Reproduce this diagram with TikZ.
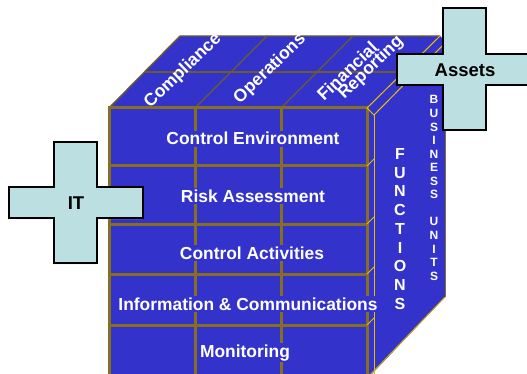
\documentclass[tikz,border=0pt]{standalone}
\usepackage{fontspec}
\setmainfont{Liberation Sans}
\definecolor{cubeblue}{RGB}{51,51,204}
\definecolor{gridline}{RGB}{134,112,32}
\definecolor{topline}{RGB}{110,92,40}
\definecolor{edgeyellow}{RGB}{232,192,0}
\definecolor{crossfill}{RGB}{188,224,226}
\begin{document}
\begin{tikzpicture}[x=1pt,y=-1pt,
  facetext/.style={text=white,font=\bfseries\fontsize{17.4}{20}\selectfont,fill=cubeblue,inner sep=1.5pt,anchor=base},
  toptext/.style={text=white,font=\bfseries\fontsize{17.5}{20}\selectfont,rotate=44,inner sep=0pt},
  sidetext/.style={text=white,font=\bfseries,align=center,inner sep=0pt},
  crossshape/.style={fill=crossfill,draw=black,line width=1.1pt,line join=miter},
  crosslabel/.style={font=\bfseries\fontsize{18.5}{20}\selectfont,text=black,inner sep=0pt},
  frontgrid/.style={draw=gridline,line width=3pt},
  topgrid/.style={draw=topline,line width=1.4pt},
  yellowline/.style={draw=edgeyellow,line width=1pt}]
\useasboundingbox (0,0) rectangle (527,374);

% faces
\fill[cubeblue] (109,108) rectangle (367,376);
\fill[cubeblue] (109,108) -- (180,36) -- (440,36) -- (367,108) -- cycle;
\fill[cubeblue] (367,108) -- (440,36) -- (445,41) -- (445,297) -- (370,376) -- (367,376) -- cycle;

% top face grid
\draw[topgrid] (109,108) -- (180,36) -- (440,36);
\draw[topgrid] (145,72) -- (403,72);
\draw[topgrid] (195,108) -- (267,36);
\draw[topgrid] (281,108) -- (353,36);

% front face grid
\draw[frontgrid] (109,380) -- (109,108) -- (367,108) -- (367,380);
\foreach \yy in {166,224,274,325} \draw[frontgrid] (109,\yy) -- (367,\yy);
\draw[frontgrid] (195,108) -- (195,380);
\draw[frontgrid] (281,108) -- (281,380);

% right face edges
\draw[yellowline] (367,108) -- (440,36);
\draw[yellowline] (367,108) -- (374,115) -- (445,43);
\draw[yellowline] (374,115) -- (374,380);
\foreach \yy in {166,224,274,325} \draw[yellowline] (367,\yy) -- (374,\yy-7);
\draw[draw=gridline,line width=1pt] (445,41) -- (445,297);
\draw[draw=edgeyellow!70!gridline,line width=1pt] (445,297) -- (368,377);

% front face labels
\node[facetext] (ce) at (253,145) {Control Environment};
\node[facetext] (ra) at (253,202) {Risk Assessment};
\node[facetext] (ca) at (252,259) {Control Activities};
\node[facetext] (ic) at (248,310) {Information \& Communications};
\node[facetext] (mo) at (245,357) {Monitoring};

% top face labels
\node[toptext] (comp) at (183,71) {Compliance};
\node[toptext] (oper) at (270,69) {Operations};
\node[toptext] (fin) at (347,71) {Financial};
\node[toptext] (rep) at (371,68) {Reporting};

% right face labels
\node[sidetext,font=\bfseries\fontsize{16}{18.75}\selectfont] (func) at (400,229)
  {F\\U\\N\\C\\T\\I\\O\\N\\S};
\node[sidetext,font=\bfseries\fontsize{12}{13.55}\selectfont] (bu) at (434,188)
  {B\\U\\S\\I\\N\\E\\S\\S\\\mbox{}\\U\\N\\I\\T\\S};

% crosses
\fill[gray!50] (53,143) -- (96,143) -- (96,188) -- (142,188) -- (142,219) -- (96,219) -- (96,264) -- (53,264) -- (53,219) -- (8,219) -- (8,188) -- (53,188) -- cycle;
\path[crossshape] (54,142) -- (97,142) -- (97,187) -- (143,187) -- (143,218) -- (97,218) -- (97,263) -- (54,263) -- (54,218) -- (9,218) -- (9,187) -- (54,187) -- cycle;
\node[crosslabel] (it) at (76,203) {IT};

\fill[gray!50] (442,9) -- (485,9) -- (485,55) -- (530,55) -- (530,86) -- (485,86) -- (485,131) -- (442,131) -- (442,86) -- (396,86) -- (396,55) -- (442,55) -- cycle;
\path[crossshape] (443,8) -- (486,8) -- (486,54) -- (532,54) -- (532,85) -- (486,85) -- (486,130) -- (443,130) -- (443,85) -- (397,85) -- (397,54) -- (443,54) -- cycle;
\node[crosslabel] (assets) at (465,70) {Assets};
\end{tikzpicture}
\end{document}
